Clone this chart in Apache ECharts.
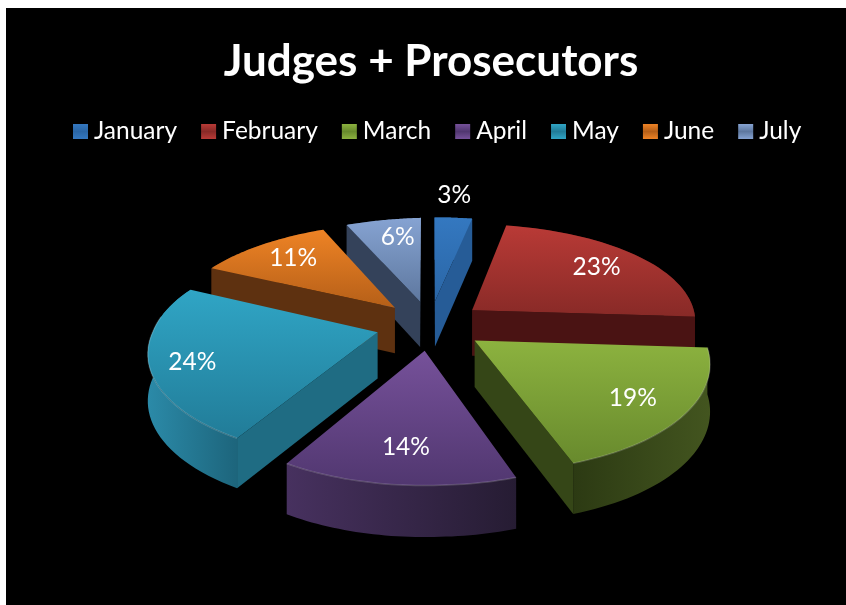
<!DOCTYPE html>
<html><head><meta charset="utf-8">
<style>
html,body{margin:0;padding:0;background:#fff;width:846px;height:605px;overflow:hidden}
#bg{position:absolute;left:6px;top:8px;width:840px;height:597px;background:#000}
#c{position:absolute;left:0;top:0;width:846px;height:605px}
</style>
<script src="https://cdn.jsdelivr.net/npm/echarts@6/dist/echarts.min.js"></script>
</head><body><div id="bg"></div><div id="c"></div>
<script>
const chartTitle = 'Judges + Prosecutors';
const months = ['January','February','March','April','May','June','July'];
const shares = [3,23,19,14,24,11,6];

const topLight  = ['#3478c0','#b93a36','#8cb23f','#76519a','#30a5c5','#ee8325','#86a3d2'];
const topDark   = ['#2a66a6','#882a27','#688a2d','#513770','#217c98','#b55f18','#5e789f'];
const sideColor = ['#265c97','#4a1313','#354617','#35254a','#1f6c83','#5e3110','#34425a'];
const wallLeft  = ['#265c97','#4a1313','#2c3a13','#47315f','#2b8aa8','#5e3110','#34425a'];
const wallRight = ['#265c97','#4a1313','#43551f','#261c33','#1d657c','#5e3110','#34425a'];
const labelReach = [1.36,0.66,0.68,0.72,0.76,0.64,0.70];
const labelNudge = [[-5,3],[15,-5],[20,9],[0,5],[-13,6],[-14,-8],[4,-5]];

const FONT = 'Lato';
const CX = 430, CY = 325, RX = 225, RY = 103, SKEW = 0.03, EXPLODE = 0.24, DEPTH = 46, TILT_LEFT = 5;
const PERSP_FAR_X = 0.10, PERSP_NEAR_X = 0.15, PERSP_FAR_Y = 0.15, PERSP_NEAR_Y = 0.165;
const total = shares.reduce((a,b)=>a+b,0);

function project(X,Y){
  const near = Y>0;
  const sx = 1/(1-(near?PERSP_NEAR_X:PERSP_FAR_X)*Y);
  const sy = 1/(1-(near?PERSP_NEAR_Y:PERSP_FAR_Y)*Y);
  return {x:CX+RX*(X+(near?SKEW*Y:0))*sx, y:CY+RY*Y*sy-(X<0?TILT_LEFT*X:0), d:DEPTH*Math.sqrt(sy)};
}
function sliceAngles(i){
  let before = 0;
  for(let k=0;k<i;k++) before += shares[k];
  const a0 = before/total*2*Math.PI, a1 = (before+shares[i])/total*2*Math.PI;
  return {a0,a1,mid:(a0+a1)/2};
}
function renderSlice(i){
  const {a0,a1,mid} = sliceAngles(i);
  const ax = EXPLODE*Math.sin(mid), ay = -EXPLODE*Math.cos(mid);
  const apex = project(ax,ay);
  const arc = [];
  const steps = 40;
  for(let k=0;k<=steps;k++){
    const t = a0+(a1-a0)*k/steps;
    arc.push(project(ax+Math.sin(t),ay-Math.cos(t)));
  }
  const top = p=>[p.x,p.y], low = p=>[p.x,p.y+p.d];
  const first = arc[0], last = arc[steps], middle = arc[steps>>1];
  const inner = {x:(apex.x+middle.x)/2,y:(apex.y+middle.y)/2};
  const kids = [];
  const wall = arc.map(top).concat(arc.slice().reverse().map(low));
  kids.push({type:'polygon',shape:{points:wall},style:{fill:{type:'linear',x:0,y:0,x2:1,y2:0,
    colorStops:[{offset:0,color:wallLeft[i]},{offset:1,color:wallRight[i]}]}}});
  [first,last].forEach(p=>{
    const ex = p.x-apex.x, ey = p.y-apex.y;
    const side = ex*(inner.y-apex.y)-ey*(inner.x-apex.x);
    if(side*ex<0){
      kids.push({type:'polygon',shape:{points:[top(apex),top(p),low(p),low(apex)]},style:{fill:sideColor[i]}});
    }
  });
  kids.push({type:'polygon',shape:{points:[top(apex)].concat(arc.map(top))},
    style:{fill:{type:'linear',x:0,y:0,x2:0,y2:1,
      colorStops:[{offset:0,color:topLight[i]},{offset:1,color:topDark[i]}]}}});
  const lit = arc.filter(p=>p.y>CY-10).map(top);
  if(lit.length>1){
    kids.push({type:'polyline',shape:{points:lit},style:{fill:null,stroke:'rgba(255,255,255,0.18)',lineWidth:1.5}});
  }
  const f = labelReach[i];
  const lp = project(ax+f*Math.sin(mid),ay-f*Math.cos(mid));
  kids.push({type:'text',style:{text:shares[i]+'%',x:lp.x+labelNudge[i][0],y:lp.y+labelNudge[i][1],fill:'#fff',fontSize:24.5,fontFamily:FONT,align:'center',verticalAlign:'middle'}});
  return {type:'group',children:kids};
}
const depthOf = i=>-Math.cos(sliceAngles(i).mid);
const ranks = months.map((_,i)=>i).sort((a,b)=>depthOf(a)-depthOf(b));

const chart = echarts.init(document.getElementById('c'),null,{renderer:'canvas'});
chart.setOption({
  animation:false,
  backgroundColor:'transparent',
  title:{text:chartTitle,left:431,top:40,textAlign:'center',padding:0,
    textStyle:{color:'#fff',fontFamily:FONT,fontWeight:'bold',fontSize:44}},
  legend:{
    left:73,top:119,padding:0,itemWidth:15,itemHeight:15,itemGap:24,icon:'rect',
    textStyle:{color:'#fff',fontFamily:FONT,fontSize:24.5,padding:[0,0,0,1]},
    data:months.map((m,i)=>({name:m,itemStyle:{color:{type:'linear',x:0,y:0,x2:0,y2:1,
      colorStops:[{offset:0,color:topLight[i]},{offset:0.5,color:topDark[i]},{offset:1,color:topLight[i]}]}}}))
  },
  series:months.map((m,i)=>({
    type:'custom',name:m,coordinateSystem:'none',silent:true,
    z:2+ranks.indexOf(i),
    data:[shares[i]],
    itemStyle:{color:topLight[i]},
    renderItem:()=>renderSlice(i)
  }))
});
</script></body></html>
